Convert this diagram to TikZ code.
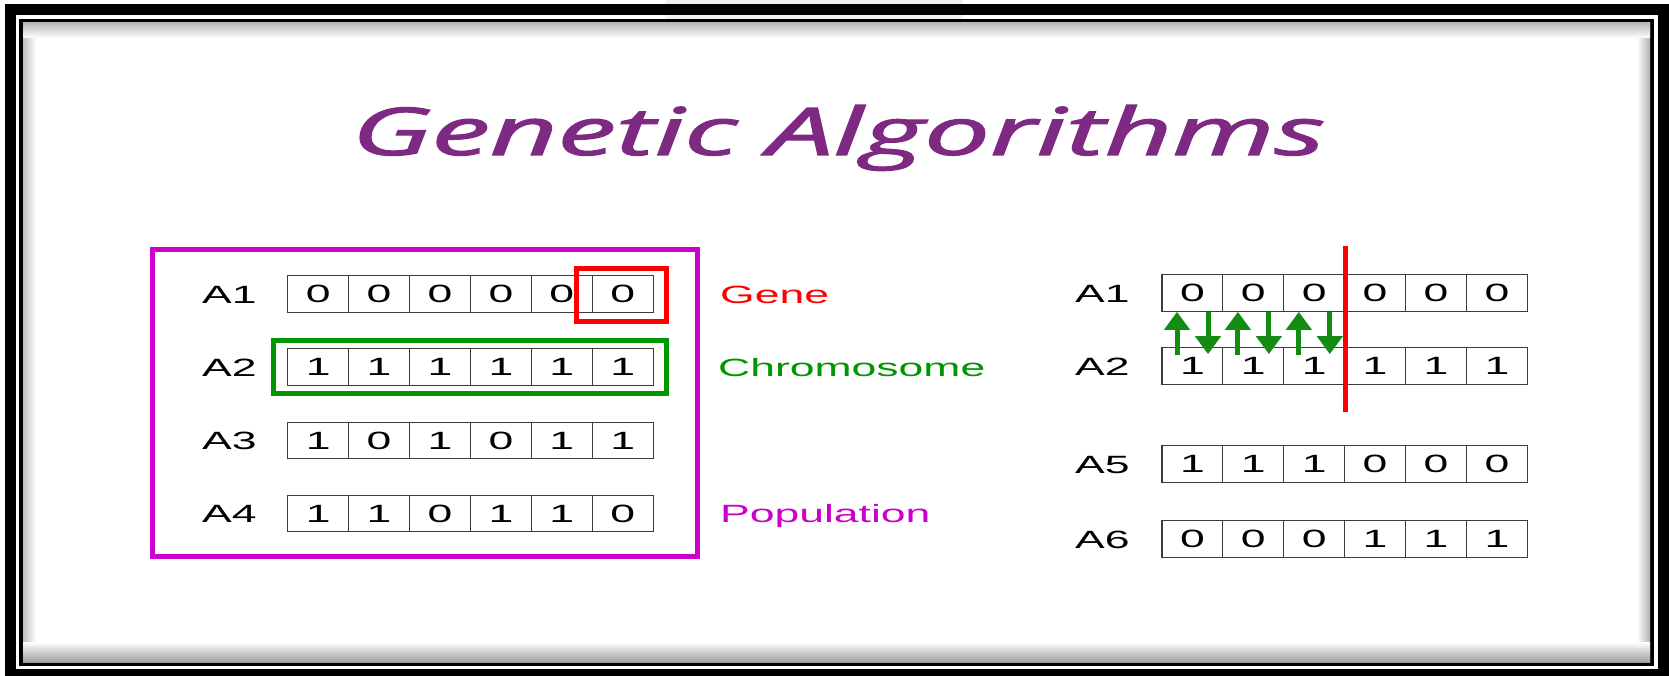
\documentclass[tikz,border=0pt]{standalone}
\usepackage{fontspec}
\setmainfont{Liberation Sans}
\newfontfamily\titlefont{Open Sans}[ItalicFeatures={FakeBold=1.6}]
\usepackage{graphicx}
\usetikzlibrary{arrows.meta}
\definecolor{titlepurple}{RGB}{126,42,130}
\definecolor{popmag}{RGB}{204,0,204}
\definecolor{genered}{RGB}{255,0,0}
\definecolor{chromgreen}{RGB}{0,150,0}
\definecolor{arrowgreen}{RGB}{20,140,20}
\definecolor{cellline}{RGB}{60,60,60}
\definecolor{faint}{RGB}{240,240,247}
\newcommand{\wide}[1]{\scalebox{1.78}[1]{#1}}
\begin{document}
\begin{tikzpicture}[x=1pt,y=-1pt,
  cell/.style={draw=cellline, line width=1.2pt, minimum width=60.9pt, minimum height=36.5pt, inner sep=0pt, font=\fontsize{25}{30}\selectfont},
  rowlab/.style={anchor=base west, inner sep=0pt, font=\fontsize{25}{30}\selectfont},
  tag/.style={anchor=base west, inner sep=0pt, font=\fontsize{25}{30}\selectfont},
  garrow/.style={draw=arrowgreen, line width=5pt, -{Triangle[width=25pt,length=18pt]}},
  framebox/.style={draw=black},
]
\useasboundingbox (0,0) rectangle (1669,676);
% frame
\fill[white] (0,0) rectangle (1669,676);
\fill[faint] (665,0) rectangle (963,19);
\draw[framebox, line width=11pt] (10.5,9.5) rectangle (1663.5,674.5);
\draw[framebox, line width=4pt] (21,21) rectangle (1652,664);
\fill[white] (23,23) rectangle (1650,662);
\shade[left color=gray!50, right color=white] (23,23) rectangle (36,662);
\shade[left color=white, right color=gray!60] (1637,23) rectangle (1650,662);
\shade[top color=gray!55, bottom color=white] (23,23) rectangle (1650,38);
\shade[top color=white, bottom color=gray!75] (23,642) rectangle (1650,662);

% title
\node[anchor=base, inner sep=0pt, text=titlepurple] (title) at (838.5,155)
  {\resizebox{973pt}{50pt}{\titlefont\itshape Genetic Algorithms}};

% left population
\foreach \r/\yc/\bits in {1/294/{0,0,0,0,0,0}, 2/367/{1,1,1,1,1,1}, 3/440.5/{1,0,1,0,1,1}, 4/513.5/{1,1,0,1,1,0}} {
  \node[rowlab] (LA\r) at (202,\yc+9) {\wide{A\r}};
  \foreach \b [count=\i] in \bits {
    \node[cell] (L\r-\i) at ({318.2+60.9*(\i-1)},\yc) {\wide{\b}};
  }
}
% right rows
\foreach \r/\yc/\bits in {1/293/{0,0,0,0,0,0}, 2/366/{1,1,1,1,1,1}, 5/464/{1,1,1,0,0,0}, 6/539/{0,0,0,1,1,1}} {
  \node[rowlab] (RA\r) at (1075,\yc+9) {\wide{A\r}};
  \foreach \b [count=\i] in \bits {
    \node[cell] (R\r-\i) at ({1192.4+60.9*(\i-1)},\yc) {\wide{\b}};
  }
}

% highlight boxes
\draw[genered, line width=5pt] ([xshift=-15pt,yshift=7pt]L1-6.north west) rectangle ([xshift=13pt,yshift=-9pt]L1-6.south east);
\draw[chromgreen, line width=5pt] ([xshift=-14pt,yshift=7.5pt]L2-1.north west) rectangle ([xshift=13pt,yshift=-8pt]L2-6.south east);
\draw[popmag, line width=5pt] (152.5,250) rectangle (697,556);

% tags
\node[tag, text=genered] (gene) at (720,303) {\wide{Gene}};
\node[tag, text=chromgreen] (chrom) at (718,376) {\wide{Chromosome}};
\node[tag, text=popmag] (pop) at (720,522.5) {\wide{Population}};

% crossover point
\draw[genered, line width=5pt] ([yshift=28pt]R1-3.north east) -- ([yshift=-27pt]R2-3.south east);

% swap arrows
\foreach \k in {1,2,3} {
  \draw[garrow] ([xshift=-15.4pt,yshift=-8pt]R2-\k.north) -- ([xshift=-15.4pt]R1-\k.south);
  \draw[garrow] ([xshift=15.6pt]R1-\k.south) -- ([xshift=15.6pt,yshift=-7pt]R2-\k.north);
}
\end{tikzpicture}
\end{document}
